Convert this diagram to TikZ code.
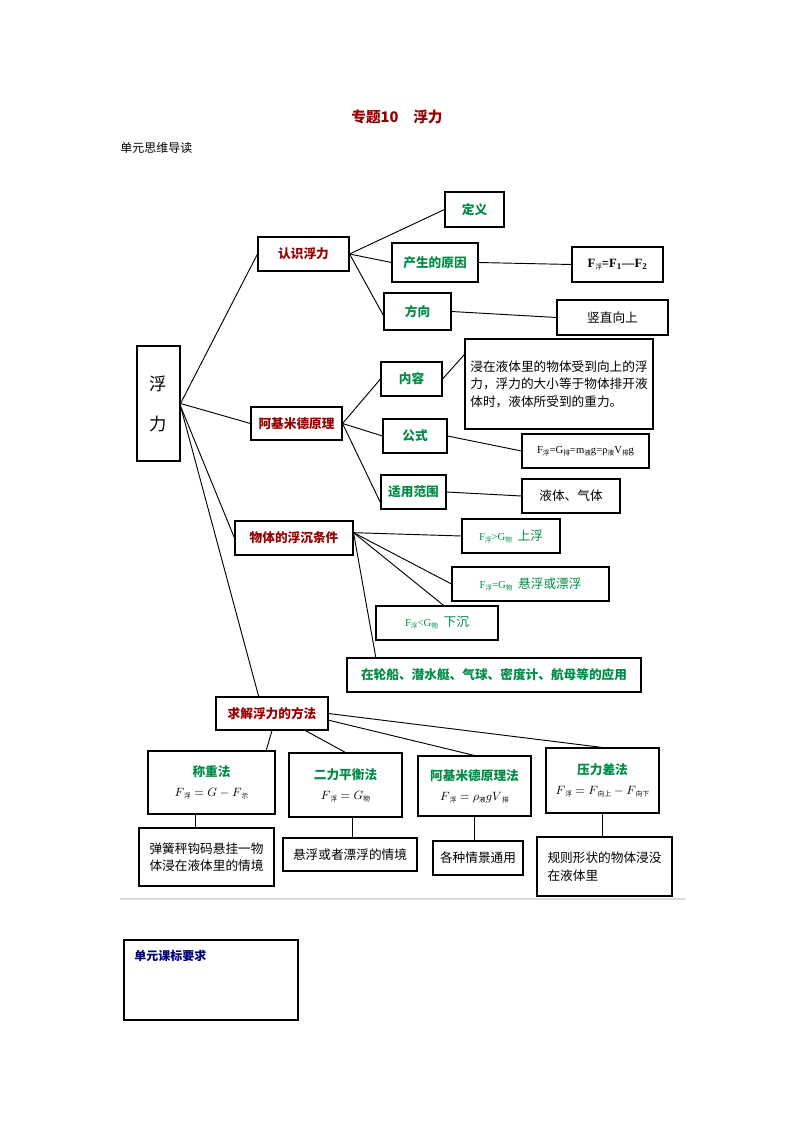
\documentclass[tikz,border=0pt]{standalone}
\usepackage{fontspec}
\setmainfont{Noto Sans CJK SC}
\newfontfamily\lat{Liberation Serif}
\newfontfamily\zh{Noto Sans CJK SC}
\definecolor{dred}{RGB}{150,0,0}
\definecolor{dgreen}{RGB}{0,140,70}
\definecolor{dblue}{RGB}{0,0,120}
\newcommand\myS[1]{\raisebox{-1.5pt}{\zh\mdseries\fontsize{5}{5}\selectfont #1}}
\newcommand\bx[7][]{\node[bx,#1,minimum width={(#5-#3)*0.75pt},minimum height={(#6-#4)*0.75pt}] (#2) at ({(#3+#5)/2},{(#4+#6)/2}) {#7};}
\begin{document}
\begin{tikzpicture}[x=0.75pt,y=-0.75pt,
  bx/.style={draw,line width=0.8pt,inner sep=2pt,font=\fontsize{9.5}{13}\selectfont},
  red/.style={text=dred,font=\bfseries\fontsize{9.5}{13}\selectfont},
  grn/.style={text=dgreen,font=\bfseries\fontsize{9.5}{13}\selectfont},
  ln/.style={line width=0.7pt}]
\useasboundingbox (0,0) rectangle (794,1123);
\node[text=dred,font=\bfseries\fontsize{11}{13}\selectfont] (title) at (397,117) {专题10\quad 浮力};
\node[anchor=west,font=\fontsize{9}{11}\selectfont,inner sep=0] (sub) at (120,148) {单元思维导读};

\bx[font=\fontsize{13}{30}\selectfont,align=center]{fl}{137}{346}{180}{461}{浮\\力}
\bx[red]{rs}{258}{237}{349}{271}{认识浮力}
\bx[grn]{dy}{445}{192}{504}{227}{定义}
\bx[grn]{yy}{392}{243}{478}{282}{产生的原因}
\bx{f12}{572}{247}{663}{282}{\lat\bfseries F\myS{浮}=F\textsubscript{1}—F\textsubscript{2}}
\bx[grn]{fx}{384}{293}{451}{330}{方向}
\bx{sz}{557}{300}{668}{335}{竖直向上}
\bx[align=left]{jz}{465}{339}{653}{429}{浸在液体里的物体受到向上的浮\\力，浮力的大小等于物体排开液\\体时，液体所受到的重力。}
\bx[grn]{nr}{381}{362}{442}{396}{内容}
\bx[red]{aj}{251}{407}{342}{440}{阿基米德原理}
\bx[grn]{gs}{383}{419}{447}{453}{公式}
\bx{gsf}{522}{434}{649}{468}{\lat\fontsize{8}{10}\selectfont F\myS{浮}=G\myS{排}=m\myS{液}g=ρ\myS{液}V\myS{排}g}
\bx[grn]{sy}{381}{475}{446}{509}{适用范围}
\bx{yt}{522}{479}{620}{513}{液体、气体}

\bx[red]{fc}{235}{521}{353}{555}{物体的浮沉条件}
\bx[text=dgreen]{c1}{462}{519}{560}{553}{{\lat\fontsize{8}{10}\selectfont F\myS{浮}>G\myS{物}}\ \ 上浮}
\bx[text=dgreen]{c2}{452}{567}{609}{601}{{\lat\fontsize{8}{10}\selectfont F\myS{浮}=G\myS{物}}\ \ 悬浮或漂浮}
\bx[text=dgreen]{c3}{376}{606}{498}{640}{{\lat\fontsize{8}{10}\selectfont F\myS{浮}<G\myS{物}}\ \ 下沉}
\bx[grn]{yy2}{347}{658}{641}{692}{在轮船、潜水艇、气球、密度计、航母等的应用}

\bx[red]{qj}{216}{697}{328}{730}{求解浮力的方法}
\bx[align=center]{m1}{148}{751}{275}{814}{\textcolor{dgreen}{\bfseries 称重法}\\[2pt]$F\myS{浮}=G-F\myS{示}$}
\bx[align=center]{m2}{289}{753}{402}{817}{\textcolor{dgreen}{\bfseries 二力平衡法}\\[2pt]$F\myS{浮}=G\myS{物}$}
\bx[align=center]{m3}{418}{756}{531}{816}{\textcolor{dgreen}{\bfseries 阿基米德原理法}\\[2pt]$F\myS{浮}=\rho\myS{液}gV\myS{排}$}
\bx[align=center]{m4}{546}{748}{659}{813}{\textcolor{dgreen}{\bfseries 压力差法}\\[2pt]$F\myS{浮}=F\myS{向上}-F\myS{向下}$}
\bx[align=left]{d1}{139}{828}{274}{886}{弹簧秤钩码悬挂一物\\体浸在液体里的情境}
\bx{d2}{283}{838}{417}{871}{悬浮或者漂浮的情境}
\bx{d3}{433}{841}{523}{875}{各种情景通用}
\bx[align=left]{d4}{537}{837}{672}{896}{规则形状的物体浸没\\在液体里}

\draw[ln] (fl.east) -- (rs.west);
\draw[ln] (fl.east) -- (aj.west);
\draw[ln] ([yshift=-2pt]fl.east) -- (fc.west);
\draw[ln] ([yshift=-2pt]fl.east) -- ([xshift=-10pt]qj.north);
\draw[ln] (rs.east) -- (dy.west);
\draw[ln] (rs.east) -- (yy.west);
\draw[ln] (rs.east) -- ([yshift=-3pt]fx.west);
\draw[ln] (yy.east) -- (f12.west);
\draw[ln] (fx.east) -- (sz.west);
\draw[ln] (aj.east) -- (nr.west);
\draw[ln] (aj.east) -- (gs.west);
\draw[ln] (aj.east) -- ([yshift=-8pt]sy.west);
\draw[ln] (nr.east) -- ([yshift=-12pt]jz.north west);
\draw[ln] (gs.east) -- (gsf.west);
\draw[ln] (sy.east) -- (yt.west);
\draw[ln] ([yshift=4pt]fc.east) -- (c1.west);
\draw[ln] ([yshift=4pt]fc.east) -- (c2.west);
\draw[ln] ([yshift=4pt]fc.east) -- ([xshift=5pt]c3.north);
\draw[ln] ([yshift=4pt]fc.east) -- ([xshift=22pt]yy2.north west);
\draw[ln] (qj.south) -- ([xshift=-7pt]m1.north east);
\draw[ln] ([xshift=25pt]qj.south) -- (m2.north);
\draw[ln] ([yshift=-5pt]qj.east) -- (m3.north);
\draw[ln] (qj.east) -- (m4.north);
\draw[ln] ([xshift=-12pt]m1.south) -- ([xshift=-12pt]m1.south |- d1.north);
\draw[ln] ([xshift=5pt]m2.south) -- ([xshift=5pt]m2.south |- d2.north);
\draw[ln] (m3.south) -- (m3.south |- d3.north);
\draw[ln] (m4.south) -- (m4.south |- d4.north);

\draw[gray!30,line width=2pt] (120,899) -- (685,899);
\node[draw,line width=0.8pt,minimum width={174*0.75pt},minimum height={80*0.75pt}] (kb) at (211,980) {};
\node[anchor=north west,text=dblue,font=\bfseries\fontsize{9}{11}\selectfont,inner sep=0] (kbt) at (134,950) {单元课标要求};
\end{tikzpicture}
\end{document}
